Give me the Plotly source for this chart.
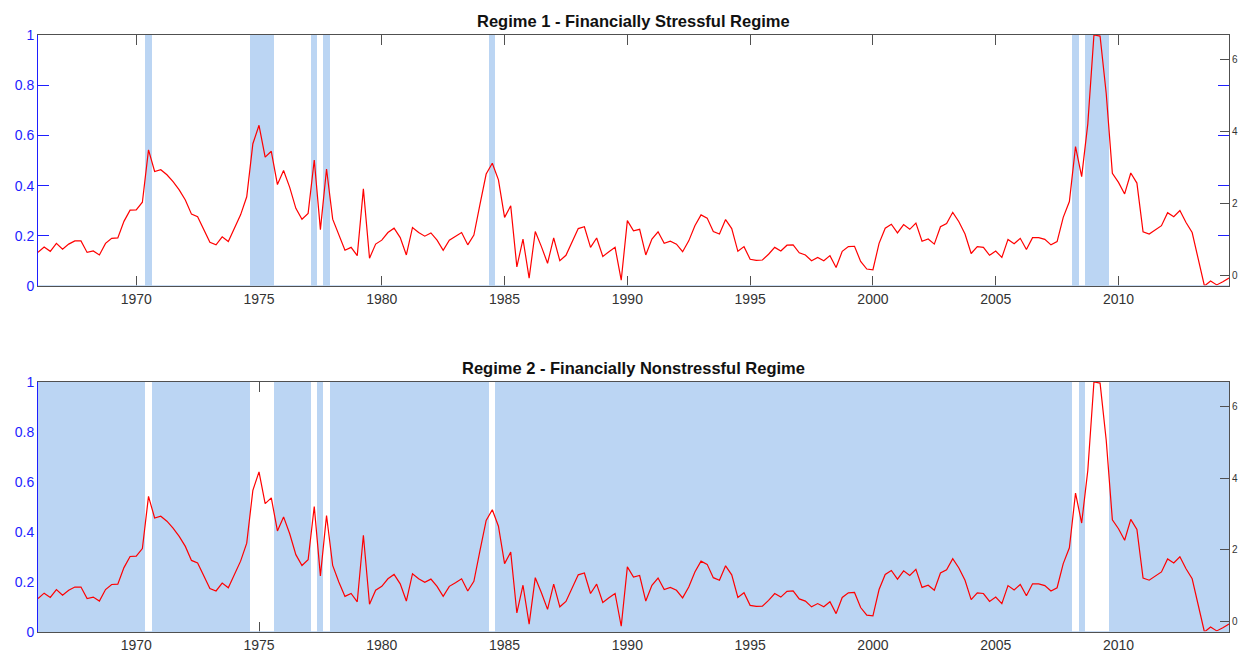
import plotly.graph_objects as go

# Quarterly sample: 1966Q1 .. 2014Q3, dated as decimal years
START_YEAR = 1966.0
N_QUARTERS = 195
dates = [START_YEAR + 0.25 * i for i in range(N_QUARTERS)]

# Financial stress index (right axis), one row per year
stress_index = [
    0.65, 0.80, 0.68, 0.90,   # 1966
    0.74, 0.88, 0.97, 0.97,   # 1967
    0.65, 0.69, 0.58, 0.90,   # 1968
    1.04, 1.05, 1.51, 1.82,   # 1969
    1.83, 2.04, 3.49, 2.89,   # 1970
    2.94, 2.80, 2.61, 2.38,   # 1971
    2.10, 1.71, 1.64, 1.30,   # 1972
    0.93, 0.86, 1.08, 0.95,   # 1973
    1.30, 1.69, 2.19, 3.66,   # 1974
    4.17, 3.29, 3.45, 2.53,   # 1975
    2.92, 2.45, 1.87, 1.57,   # 1976
    1.73, 3.21, 1.28, 2.96,   # 1977
    1.57, 1.11, 0.71, 0.79,   # 1978
    0.56, 2.41, 0.49, 0.88,   # 1979
    0.99, 1.20, 1.32, 1.06,   # 1980
    0.58, 1.34, 1.20, 1.10,   # 1981
    1.19, 0.99, 0.71, 0.99,   # 1982
    1.09, 1.20, 0.86, 1.13,   # 1983
    1.99, 2.82, 3.12, 2.66,   # 1984
    1.62, 1.94, 0.25, 1.02,   # 1985
    -0.06, 1.23, 0.81, 0.35,  # 1986
    1.05, 0.42, 0.57, 0.93,   # 1987
    1.31, 1.36, 0.79, 1.05,   # 1988
    0.54, 0.67, 0.79, -0.12,  # 1989
    1.53, 1.25, 1.29, 0.58,   # 1990
    1.02, 1.22, 0.90, 0.96,   # 1991
    0.88, 0.67, 0.97, 1.39,   # 1992
    1.69, 1.60, 1.23, 1.16,   # 1993
    1.56, 1.31, 0.68, 0.81,   # 1994
    0.46, 0.43, 0.44, 0.60,   # 1995
    0.79, 0.69, 0.85, 0.86,   # 1996
    0.64, 0.58, 0.42, 0.51,   # 1997
    0.42, 0.56, 0.23, 0.68,   # 1998
    0.81, 0.82, 0.40, 0.19,   # 1999
    0.17, 0.90, 1.32, 1.43,   # 2000
    1.19, 1.42, 1.29, 1.46,   # 2001
    0.96, 1.02, 0.88, 1.36,   # 2002
    1.45, 1.76, 1.50, 1.16,   # 2003
    0.62, 0.81, 0.79, 0.57,   # 2004
    0.69, 0.51, 1.01, 0.89,   # 2005
    1.04, 0.73, 1.06, 1.06,   # 2006
    1.01, 0.86, 0.95, 1.62,   # 2007
    2.06, 3.58, 2.75, 4.21,   # 2008
    6.67, 6.64, 5.05, 2.84,   # 2009
    2.59, 2.27, 2.85, 2.57,   # 2010
    1.22, 1.16, 1.27, 1.39,   # 2011
    1.75, 1.64, 1.81, 1.48,   # 2012
    1.20, 0.46, -0.28, -0.14, # 2013
    -0.25, -0.16, -0.06,      # 2014
]

# Smoothed probability of the financially stressful regime
regime1_prob = [
    0, 0, 0, 0,  # 1966
    0, 0, 0, 0,  # 1967
    0, 0, 0, 0,  # 1968
    0, 0, 0, 0,  # 1969
    0, 0, 1, 0,  # 1970
    0, 0, 0, 0,  # 1971
    0, 0, 0, 0,  # 1972
    0, 0, 0, 0,  # 1973
    0, 0, 0, 1,  # 1974
    1, 1, 1, 0,  # 1975
    0, 0, 0, 0,  # 1976
    0, 1, 0, 1,  # 1977
    0, 0, 0, 0,  # 1978
    0, 0, 0, 0,  # 1979
    0, 0, 0, 0,  # 1980
    0, 0, 0, 0,  # 1981
    0, 0, 0, 0,  # 1982
    0, 0, 0, 0,  # 1983
    0, 0, 1, 0,  # 1984
    0, 0, 0, 0,  # 1985
    0, 0, 0, 0,  # 1986
    0, 0, 0, 0,  # 1987
    0, 0, 0, 0,  # 1988
    0, 0, 0, 0,  # 1989
    0, 0, 0, 0,  # 1990
    0, 0, 0, 0,  # 1991
    0, 0, 0, 0,  # 1992
    0, 0, 0, 0,  # 1993
    0, 0, 0, 0,  # 1994
    0, 0, 0, 0,  # 1995
    0, 0, 0, 0,  # 1996
    0, 0, 0, 0,  # 1997
    0, 0, 0, 0,  # 1998
    0, 0, 0, 0,  # 1999
    0, 0, 0, 0,  # 2000
    0, 0, 0, 0,  # 2001
    0, 0, 0, 0,  # 2002
    0, 0, 0, 0,  # 2003
    0, 0, 0, 0,  # 2004
    0, 0, 0, 0,  # 2005
    0, 0, 0, 0,  # 2006
    0, 0, 0, 0,  # 2007
    0, 1, 0, 1,  # 2008
    1, 1, 1, 0,  # 2009
    0, 0, 0, 0,  # 2010
    0, 0, 0, 0,  # 2011
    0, 0, 0, 0,  # 2012
    0, 0, 0, 0,  # 2013
    0, 0, 0,     # 2014
]

# Smoothed probability of the financially nonstressful regime
regime2_prob = [
    1, 1, 1, 1,  # 1966
    1, 1, 1, 1,  # 1967
    1, 1, 1, 1,  # 1968
    1, 1, 1, 1,  # 1969
    1, 1, 0, 1,  # 1970
    1, 1, 1, 1,  # 1971
    1, 1, 1, 1,  # 1972
    1, 1, 1, 1,  # 1973
    1, 1, 1, 0,  # 1974
    0, 0, 0, 1,  # 1975
    1, 1, 1, 1,  # 1976
    1, 0, 1, 0,  # 1977
    1, 1, 1, 1,  # 1978
    1, 1, 1, 1,  # 1979
    1, 1, 1, 1,  # 1980
    1, 1, 1, 1,  # 1981
    1, 1, 1, 1,  # 1982
    1, 1, 1, 1,  # 1983
    1, 1, 0, 1,  # 1984
    1, 1, 1, 1,  # 1985
    1, 1, 1, 1,  # 1986
    1, 1, 1, 1,  # 1987
    1, 1, 1, 1,  # 1988
    1, 1, 1, 1,  # 1989
    1, 1, 1, 1,  # 1990
    1, 1, 1, 1,  # 1991
    1, 1, 1, 1,  # 1992
    1, 1, 1, 1,  # 1993
    1, 1, 1, 1,  # 1994
    1, 1, 1, 1,  # 1995
    1, 1, 1, 1,  # 1996
    1, 1, 1, 1,  # 1997
    1, 1, 1, 1,  # 1998
    1, 1, 1, 1,  # 1999
    1, 1, 1, 1,  # 2000
    1, 1, 1, 1,  # 2001
    1, 1, 1, 1,  # 2002
    1, 1, 1, 1,  # 2003
    1, 1, 1, 1,  # 2004
    1, 1, 1, 1,  # 2005
    1, 1, 1, 1,  # 2006
    1, 1, 1, 1,  # 2007
    1, 0, 1, 0,  # 2008
    0, 0, 0, 1,  # 2009
    1, 1, 1, 1,  # 2010
    1, 1, 1, 1,  # 2011
    1, 1, 1, 1,  # 2012
    1, 1, 1, 1,  # 2013
    1, 1, 1,     # 2014
]

titles = ["Regime 1 - Financially Stressful Regime",
          "Regime 2 - Financially Nonstressful Regime"]
x_ticks = [1970, 1975, 1980, 1985, 1990, 1995, 2000, 2005, 2010]
left_ticks = [0, 0.2, 0.4, 0.6, 0.8, 1]
left_labels = ["0", "0.2", "0.4", "0.6", "0.8", "1"]
right_ticks = [0, 2, 4, 6]

BAR_COLOR = "#BBD5F3"
LINE_COLOR = "#FF0000"
AX_GREY = "#505050"
AX_BLUE = "#1E1EFF"
FONT = "Liberation Sans, Arial, sans-serif"

W, H = 1239, 655
M_L, M_R, M_T, M_B = 38, 10, 35, 23
plot_h = H - M_T - M_B
# panel extents in pixels from the top of the page
panels_px = [(35, 286), (382, 632)]

def to_dom(p):
    return (H - M_B - p) / plot_h

x_range = [dates[0], dates[-1]]
y2_range = [min(stress_index), max(stress_index)]

fig = go.Figure()
layout = dict(
    width=W, height=H,
    margin=dict(l=M_L, r=M_R, t=M_T, b=M_B, autoexpand=False),
    paper_bgcolor="white", plot_bgcolor="white",
    showlegend=False, bargap=0,
    font=dict(family=FONT),
    annotations=[], shapes=[],
)

probs = [regime1_prob, regime2_prob]
for i in range(2):
    xa = "x" if i == 0 else "x2"
    ya_l = "y" if i == 0 else "y3"
    ya_r = "y2" if i == 0 else "y4"
    xkey = "xaxis" if i == 0 else "xaxis2"
    ylkey = "yaxis" if i == 0 else "yaxis3"
    yrkey = "yaxis2" if i == 0 else "yaxis4"
    top_px, bot_px = panels_px[i]
    dom = [to_dom(bot_px), to_dom(top_px)]

    fig.add_trace(go.Bar(
        x=dates, y=probs[i], width=0.25, xaxis=xa, yaxis=ya_l,
        marker=dict(color=BAR_COLOR, line=dict(width=0)),
        hoverinfo="skip",
    ))
    fig.add_trace(go.Scatter(
        x=dates, y=stress_index, mode="lines", xaxis=xa, yaxis=ya_r,
        line=dict(color=LINE_COLOR, width=1.2),
        hoverinfo="skip",
    ))

    layout[xkey] = dict(
        domain=[0, 1], anchor=ya_l, range=x_range, automargin=False,
        tickmode="array", tickvals=x_ticks,
        ticks="inside", ticklen=10, tickwidth=1, tickcolor=AX_GREY,
        showline=True, linecolor=AX_GREY, linewidth=1, mirror="ticks",
        showgrid=False, zeroline=False, layer="below traces",
        tickfont=dict(size=14, color="#333333", family=FONT),
    )
    layout[ylkey] = dict(
        domain=dom, anchor=xa, range=[0, 1], automargin=False,
        tickmode="array", tickvals=left_ticks, ticktext=left_labels,
        ticks="inside", ticklen=11, tickwidth=1, tickcolor=AX_BLUE,
        showline=True, linecolor=AX_BLUE, linewidth=1, mirror="ticks",
        showgrid=False, zeroline=False, layer="below traces",
        tickfont=dict(size=14, color=AX_BLUE, family=FONT),
    )
    layout[yrkey] = dict(
        overlaying=ya_l, side="right", anchor=xa, range=y2_range,
        automargin=False,
        tickmode="array", tickvals=right_ticks,
        ticks="inside", ticklen=9, tickwidth=1, tickcolor=AX_GREY,
        showline=True, linecolor=AX_GREY, linewidth=1,
        showgrid=False, zeroline=False, layer="above traces",
        tickfont=dict(size=10, color="#333333", family=FONT),
    )
    # bar baseline along the bottom edge
    layout["shapes"].append(dict(
        type="line", xref=f"{xa} domain", yref=ya_l,
        x0=0, x1=1, y0=0, y1=0,
        line=dict(color=BAR_COLOR, width=1.5), layer="above",
    ))
    layout["annotations"].append(dict(
        text=f"<b>{titles[i]}</b>", xref="paper", yref="paper",
        x=0.5, y=to_dom(top_px - 14), xanchor="center", yanchor="middle",
        showarrow=False, font=dict(size=16.5, color="#111111", family=FONT),
    ))

fig.update_layout(**layout)
fig.write_html("out.html")
